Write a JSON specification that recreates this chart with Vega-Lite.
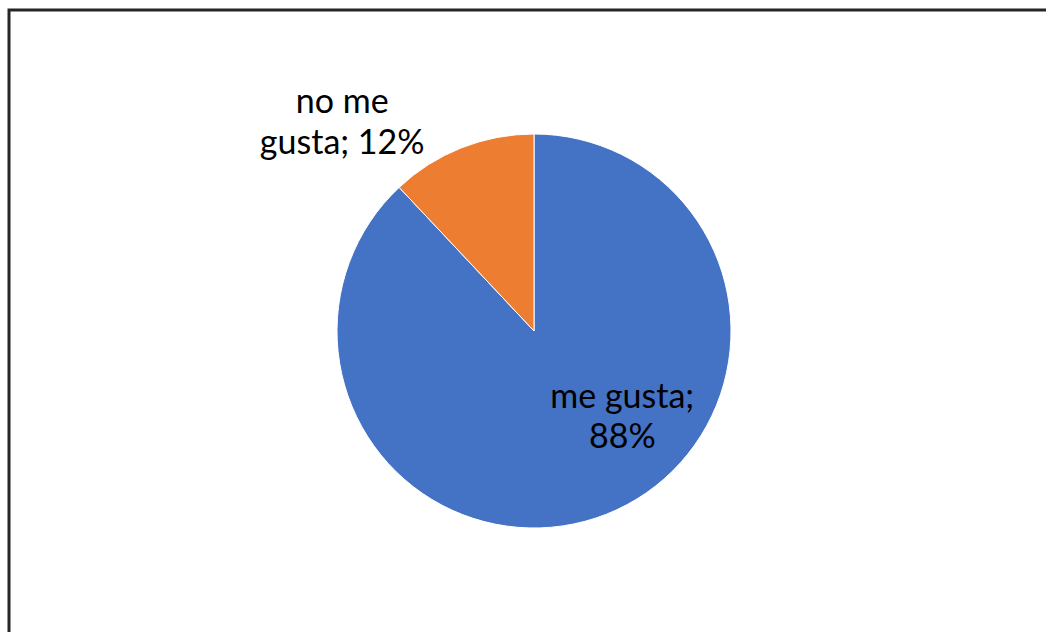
{
  "$schema": "https://vega.github.io/schema/vega-lite/v6.json",
  "autosize": "none",
  "width": 1050,
  "height": 642,
  "padding": {"left": 9, "top": 10, "right": -13, "bottom": -20},
  "background": "white",
  "view": {"stroke": "#262626", "strokeWidth": 3, "fill": "white"},
  "config": {"view": {"stroke": "#262626", "strokeWidth": 3}},
  "data": {
    "values": [
      {"category": "me gusta", "value": 88, "label": "me gusta;\n88%"},
      {"category": "no me gusta", "value": 12, "label": "no me\ngusta; 12%"}
    ]
  },
  "encoding": {
    "theta": {"field": "value", "type": "quantitative", "stack": true},
    "color": {
      "field": "category",
      "type": "nominal",
      "scale": {"domain": ["me gusta", "no me gusta"], "range": ["#4472C4", "#ED7D31"]},
      "legend": null
    },
    "order": {"field": "category", "type": "nominal"}
  },
  "layer": [
    {"mark": {"type": "arc", "outerRadius": 197, "stroke": "white", "strokeWidth": 1}},
    {
      "mark": {"type": "text", "radius": 123, "dx": 43, "dy": -47, "font": "Lato", "fontSize": 34, "lineBreak": "\n", "lineHeight": 40, "align": "center", "baseline": "middle"},
      "encoding": {
        "text": {"condition": {"test": "datum.category == 'me gusta'", "field": "label"}, "value": ""},
        "color": {"value": "#000000"}
      }
    },
    {
      "mark": {"type": "text", "radius": 282, "dx": -88, "dy": 34, "font": "Lato", "fontSize": 34, "lineBreak": "\n", "lineHeight": 41, "align": "center", "baseline": "middle"},
      "encoding": {
        "text": {"condition": {"test": "datum.category == 'no me gusta'", "field": "label"}, "value": ""},
        "color": {"value": "#000000"}
      }
    }
  ]
}
